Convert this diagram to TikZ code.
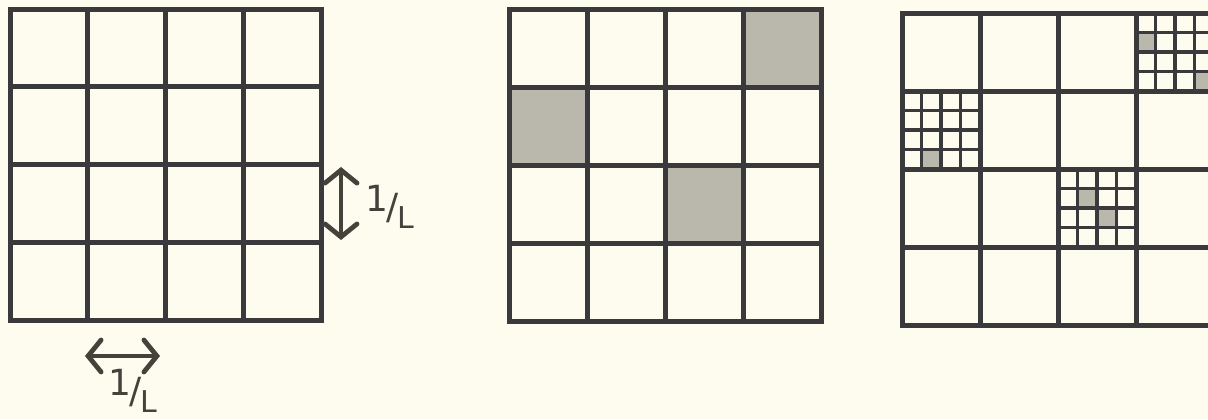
\documentclass[tikz,border=0pt]{standalone}
\usepackage{fontspec}
\setsansfont{DejaVu Sans}
\usetikzlibrary{arrows.meta}

\definecolor{paper}{HTML}{FEFCEF}
\definecolor{ink}{HTML}{3A3A3C}
\definecolor{shade}{HTML}{BAB7AC}

\tikzset{
  mainline/.style={draw=ink, line width=2.5pt, line cap=rect},
  subline/.style={draw=ink, line width=1.6pt, line cap=rect},
  cellfill/.style={fill=shade},
  dimarrow/.style={draw=ink!90!brown, line width=2.4pt, line cap=round,
    {Straight Barb[length=6.5pt, width=16pt, line cap=round]}-{Straight Barb[length=6.5pt, width=16pt, line cap=round]}},
  dimlabel/.style={text=ink!90!brown, font=\sffamily\fontsize{18}{20}\selectfont, inner sep=0pt}
}

\newcommand{\oneoverL}{\raisebox{0.4ex}{1}\kern-1pt/\kern-0.5pt\raisebox{-0.5ex}{\fontsize{15}{16}\selectfont L}}

\begin{document}
\begin{tikzpicture}[x=0.5pt, y=-0.5pt]
  \fill[paper] (0,0) rectangle (1208,419);
  \useasboundingbox (0,0) rectangle (1208,419);
  \clip (0,0) rectangle (1208,419);

  % left grid
  \foreach \i in {0,...,4} {
    \draw[mainline] (10+77.75*\i,9) -- (10+77.75*\i,320);
    \draw[mainline] (10,9+77.75*\i) -- (321,9+77.75*\i);
  }
  \coordinate (vtop) at (341,167);
  \coordinate (vbot) at (341,240);
  \draw[dimarrow] (vtop) -- (vbot);
  \node[dimlabel] (vlab) at (390,207) {\oneoverL};
  \coordinate (hleft) at (85,356);
  \coordinate (hright) at (160,356);
  \draw[dimarrow] (hleft) -- (hright);
  \node[dimlabel] (hlab) at (133,391) {\oneoverL};

  % middle grid
  \foreach \c/\r in {3/0, 0/1, 2/2}
    \fill[cellfill] (509+78*\c,9+78*\r) rectangle ++(78,78);
  \foreach \i in {0,...,4} {
    \draw[mainline] (509+78*\i,9) -- (509+78*\i,321);
    \draw[mainline] (509,9+78*\i) -- (821,9+78*\i);
  }

  % right grid, refined cells
  \foreach \c/\r/\sc/\sr in {3/0/0/1, 3/0/3/3, 0/1/1/3, 2/2/1/1, 2/2/2/2}
    \fill[cellfill] (902+78*\c+19.5*\sc,13+78*\r+19.5*\sr) rectangle ++(19.5,19.5);
  \foreach \c/\r in {3/0, 0/1, 2/2}
    \foreach \k in {1,2,3} {
      \draw[subline] (902+78*\c+19.5*\k,13+78*\r) -- ++(0,78);
      \draw[subline] (902+78*\c,13+78*\r+19.5*\k) -- ++(78,0);
    }
  \foreach \i in {0,...,4} {
    \draw[mainline] (902+78*\i,13) -- (902+78*\i,325);
    \draw[mainline] (902,13+78*\i) -- (1214,13+78*\i);
  }
\end{tikzpicture}
\end{document}
